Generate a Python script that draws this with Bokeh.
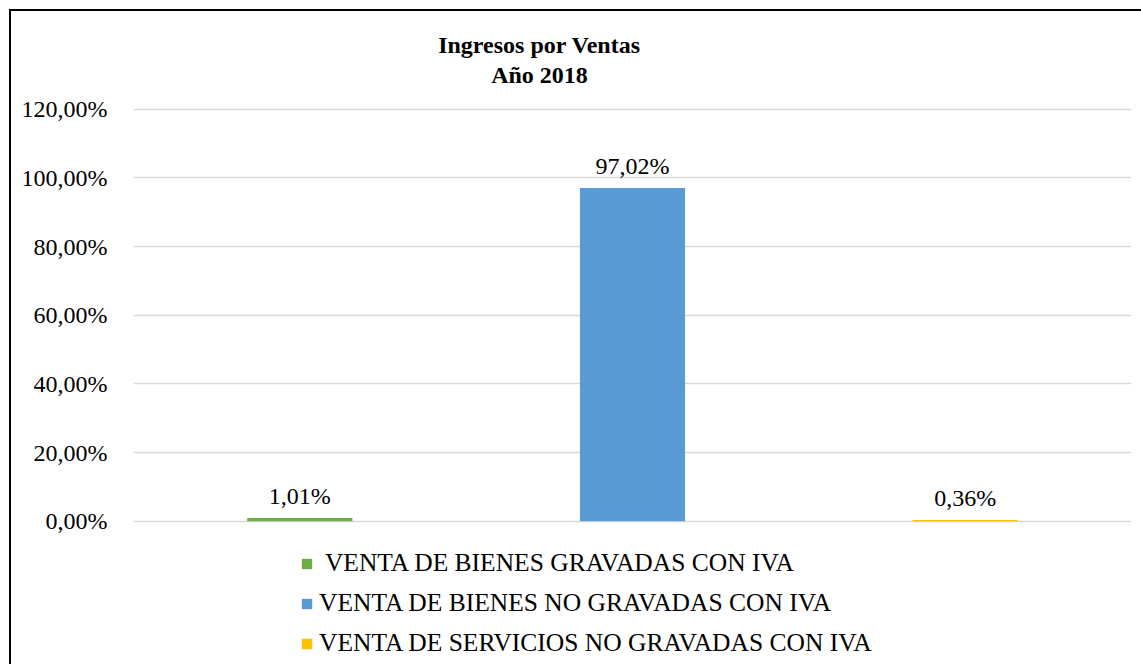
from bokeh.plotting import figure
from bokeh.models import (ColumnDataSource, LabelSet, Label, Legend, LegendItem,
                          FactorRange, Range1d, FixedTicker, CustomJSTickFormatter)
from bokeh.embed import file_html
from bokeh.resources import INLINE

# ---- data ----
categories = [" VENTA DE BIENES GRAVADAS CON IVA",
              "VENTA DE BIENES NO GRAVADAS CON IVA",
              "VENTA DE SERVICIOS NO GRAVADAS CON IVA"]
values = [1.01, 97.02, 0.36]
colors = ["#70ad47", "#5b9bd5", "#ffc000"]
y_ticks = [0, 20, 40, 60, 80, 100, 120]
title_lines = ["Ingresos por Ventas", "Año 2018"]

FONT = "Liberation Serif"

labels = [f"{v:.2f}".replace(".", ",") + "%" for v in values]
src = ColumnDataSource(dict(cat=categories, val=values, color=colors, lab=labels))

p = figure(width=1130, height=653, output_backend="svg", toolbar_location=None,
           x_range=FactorRange(*categories, range_padding=0), y_range=Range1d(-42.25, 147.24),
           min_border_left=122, min_border_top=4, min_border_right=12, min_border_bottom=0)
p.styles = {"margin-left": "9px", "margin-top": "9px", "box-sizing": "content-box",
            "border-left": "2px solid black", "border-top": "2px solid black"}
p.outline_line_color = None
p.background_fill_color = "white"
p.border_fill_color = "white"

r = p.vbar(x="cat", top="val", width=0.316, fill_color="color", line_color=None, source=src)

# axes
p.xaxis.visible = False
p.xgrid.grid_line_color = None
p.yaxis.ticker = FixedTicker(ticks=y_ticks)
p.yaxis.formatter = CustomJSTickFormatter(code="return tick.toFixed(2).replace('.', ',') + '%';")
p.yaxis.axis_line_color = None
p.yaxis.major_tick_line_color = None
p.yaxis.minor_tick_line_color = None
p.yaxis.major_label_standoff = 20
p.yaxis.major_label_text_font = FONT
p.yaxis.major_label_text_font_size = "24px"
p.yaxis.major_label_text_color = "black"
p.ygrid.grid_line_color = "#d9d9d9"
p.ygrid.grid_line_width = 1.5

# data labels
ls = LabelSet(x="cat", y="val", text="lab", source=src, text_align="center",
              text_baseline="alphabetic", y_offset=14, text_font=FONT,
              text_font_size="24px", text_color="black")
p.add_layout(ls)

# title
for i, t in enumerate(title_lines):
    p.add_layout(Label(x=406, y=622 - 30 * i, x_units="screen", y_units="screen", text=t,
                       text_align="center", text_baseline="middle", text_font=FONT,
                       text_font_style="bold", text_font_size="24px", text_color="black"))

# legend
items = [LegendItem(label=c, renderers=[r], index=i) for i, c in enumerate(categories)]
leg = Legend(items=items, location=(167, 3), orientation="vertical",
             glyph_width=13, glyph_height=13, label_standoff=6, label_height=40,
             spacing=0, padding=0, margin=0, border_line_color=None,
             background_fill_alpha=0, label_text_font=FONT, label_text_font_size="25.5px",
             label_text_color="black")
p.add_layout(leg, "center")

open("out.html", "w").write(file_html(p, INLINE))
